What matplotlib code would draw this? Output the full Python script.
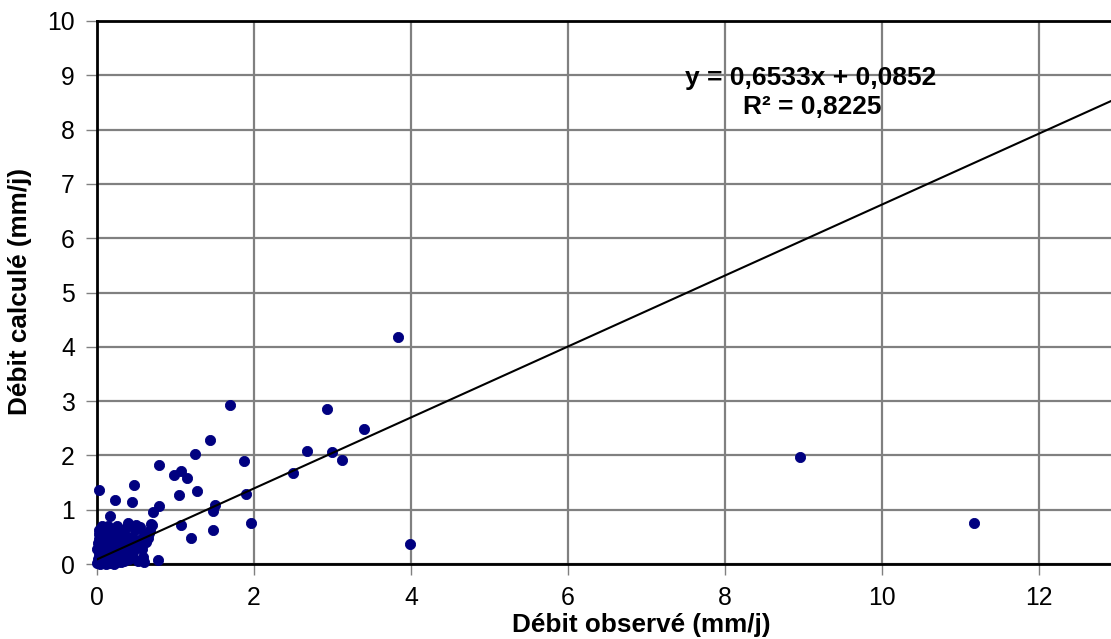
import matplotlib
matplotlib.use("Agg")
import matplotlib.pyplot as plt
import numpy as np

plt.rcParams['font.family'] = ['Liberation Sans', 'DejaVu Sans']

# Observed vs computed daily discharge (mm/j)
obs_main = [3.83, 1.69, 2.93, 3.40, 1.44, 2.68, 2.99, 3.12, 1.25, 1.87, 0.79,
            1.07, 0.98, 1.15, 2.50, 1.27, 1.04, 1.90, 0.47, 0.02, 0.23, 0.44,
            1.50, 1.48, 0.79, 0.71, 0.17, 1.07, 1.96, 1.48, 1.20, 3.99, 0.78,
            0.60, 8.96, 11.18]
calc_main = [4.18, 2.93, 2.85, 2.49, 2.28, 2.08, 2.06, 1.92, 2.03, 1.90, 1.83,
             1.71, 1.64, 1.58, 1.68, 1.34, 1.27, 1.29, 1.46, 1.36, 1.18, 1.14,
             1.09, 0.97, 1.06, 0.96, 0.88, 0.72, 0.76, 0.63, 0.48, 0.37, 0.07,
             0.03, 1.97, 0.75]

obs_low = [0.00, 0.01, 0.02, 0.00, 0.01, 0.02, 0.03, 0.04, 0.05, 0.05, 0.06,
           0.07, 0.08, 0.08, 0.09, 0.10, 0.10, 0.11, 0.12, 0.12, 0.13, 0.14,
           0.15, 0.15, 0.16, 0.17, 0.18, 0.18, 0.19, 0.20, 0.21, 0.22, 0.23,
           0.24, 0.25, 0.26, 0.27, 0.28, 0.29, 0.30, 0.31, 0.33, 0.34, 0.35,
           0.37, 0.38, 0.40, 0.41, 0.42, 0.44, 0.46, 0.48, 0.50, 0.52, 0.53,
           0.55, 0.57, 0.60, 0.62, 0.65, 0.68, 0.70, 0.03, 0.06, 0.02, 0.13,
           0.08, 0.16, 0.22, 0.28, 0.36, 0.14, 0.04, 0.11, 0.19, 0.32, 0.45,
           0.58, 0.25, 0.31, 0.61, 0.66, 0.46, 0.39, 0.50, 0.69]
calc_low = [0.02, 0.10, 0.18, 0.28, 0.38, 0.46, 0.05, 0.22, 0.33, 0.52, 0.12,
            0.41, 0.03, 0.27, 0.58, 0.16, 0.36, 0.48, 0.07, 0.66, 0.25, 0.42,
            0.13, 0.55, 0.31, 0.02, 0.20, 0.46, 0.62, 0.09, 0.35, 0.27, 0.52,
            0.15, 0.40, 0.04, 0.60, 0.22, 0.33, 0.11, 0.47, 0.28, 0.06, 0.55,
            0.18, 0.38, 0.72, 0.10, 0.30, 0.50, 0.22, 0.62, 0.35, 0.05, 0.45,
            0.68, 0.28, 0.55, 0.40, 0.48, 0.62, 0.72, 0.62, 0.70, 0.55, 0.60,
            0.48, 0.08, 0.00, 0.45, 0.64, 0.70, 0.00, 0.00, 0.38, 0.38, 0.15,
            0.12, 0.70, 0.04, 0.41, 0.57, 0.26, 0.75, 0.72, 0.74]

slope = 0.6533
intercept = 0.0852
r2 = 0.8225

x_ticks = [0, 2, 4, 6, 8, 10, 12]
y_ticks = list(range(0, 11))

obs = np.array(obs_main + obs_low)
calc = np.array(calc_main + calc_low)

W, H = 1111, 639
fig = plt.figure(figsize=(W / 100, H / 100), dpi=100)
ax = fig.add_axes([97 / W, 75 / H, 1 - 97 / W, 543 / H])

ax.set_xlim(0, 12.92)
ax.set_ylim(0, 10)
ax.set_xticks(x_ticks)
ax.set_yticks(y_ticks)
ax.grid(True, color='#808080', linewidth=1.6)
ax.set_axisbelow(True)

ax.scatter(obs, calc, s=54, color='#000080', edgecolors='#000080',
           linewidths=0.6, zorder=3, clip_on=False)

xl = np.array([0.0, 13.0])
ax.plot(xl, slope * xl + intercept, color='black', linewidth=1.5, zorder=4)

for side in ('left', 'bottom', 'top'):
    ax.spines[side].set_color('black')
    ax.spines[side].set_linewidth(2)
ax.spines['right'].set_visible(False)

ax.tick_params(axis='both', direction='out', length=8, width=1,
               color='#808080', labelsize=17.8)
ax.tick_params(axis='y', pad=8)
ax.tick_params(axis='x', pad=8)

eq_text = f"y = {slope:.4f}x + {intercept:.4f}".replace('.', ',')
r2_text = f"R² = {r2:.4f}".replace('.', ',')
fig.text(811 / W, 1 - 78 / H, eq_text, ha='center', va='center',
         fontsize=19, fontweight='bold')
fig.text(812 / W, 1 - 107 / H, r2_text, ha='center', va='center',
         fontsize=19, fontweight='bold')

fig.text(641 / W, 1 - 625 / H, "Débit observé (mm/j)", ha='center',
         va='center', fontsize=18.8, fontweight='bold')
fig.text(20 / W, 1 - 292 / H, "Débit calculé (mm/j)", ha='center',
         va='center', rotation=90, fontsize=18.8, fontweight='bold')

fig.savefig('out.png', dpi=100)
